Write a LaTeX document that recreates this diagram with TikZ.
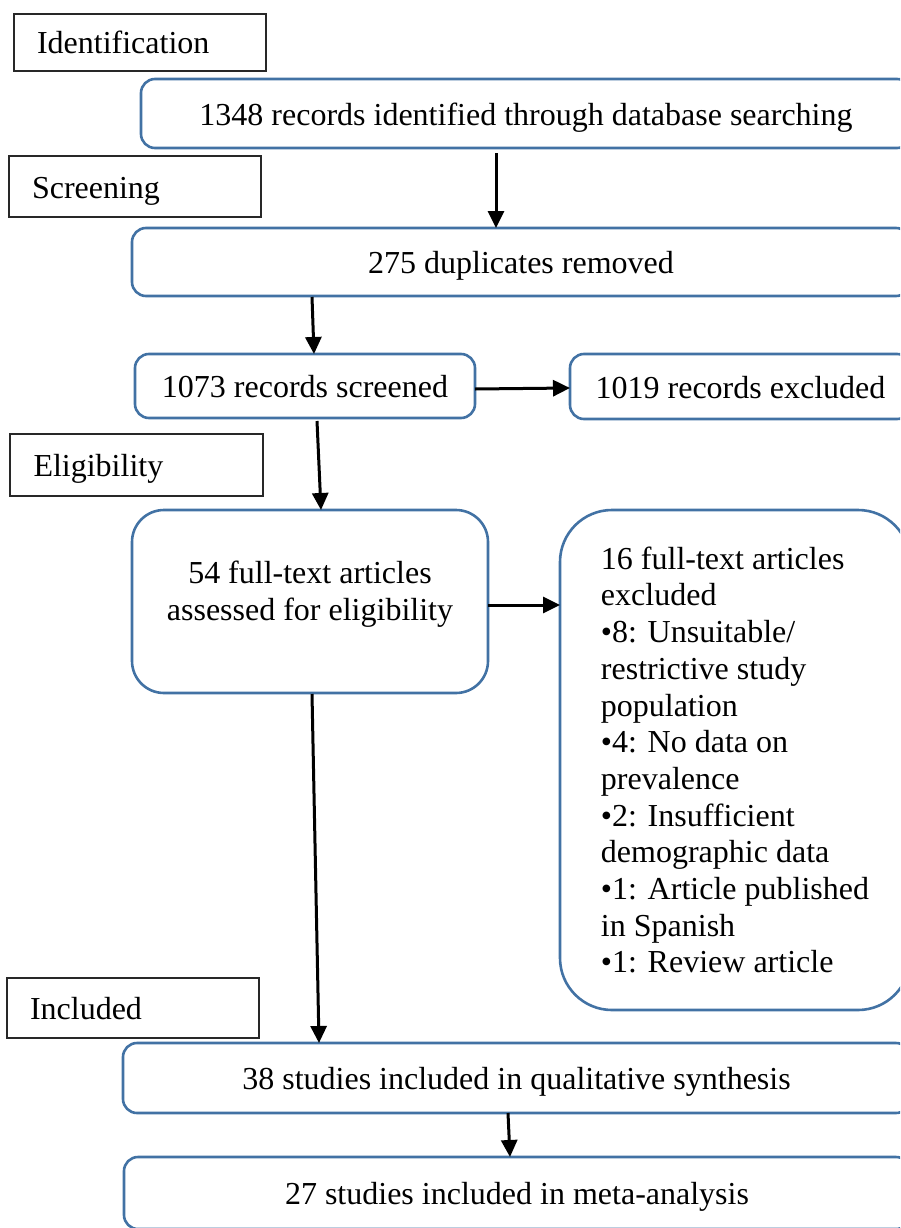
\documentclass[tikz,border=0pt]{standalone}
\usepackage{fontspec}
\setmainfont{Liberation Serif}
\usetikzlibrary{arrows.meta}
\definecolor{boxblue}{RGB}{66,114,164}
\definecolor{lblgray}{RGB}{40,40,40}
\begin{document}
\begin{tikzpicture}[x=1pt,y=-1pt,
  every node/.style={font=\fontsize{32}{36.7}\selectfont, inner sep=0pt, outer sep=0pt},
  oneline/.style={text height=25.5pt, text depth=2.5pt},
  lbl/.style={draw=lblgray, line width=1.4pt, anchor=north west, align=left, text width=206pt, oneline},
  rbox/.style={draw=boxblue, line width=2.6pt, rounded corners=14pt, anchor=north west, align=center},
  arr/.style={line width=3pt, -{Triangle[length=17pt,width=16pt]}},
]
\useasboundingbox (0,0) rectangle (900,1228);
\clip (0,0) rectangle (900,1228);

% stage labels
\node[lbl, minimum width=252pt, minimum height=57pt] (idl) at (14,14) {Identification};
\node[lbl, minimum width=252pt, minimum height=61pt] (scl) at (9,156) {Screening};
\node[lbl, minimum width=253pt, minimum height=62pt] (ell) at (10,434) {Eligibility};
\node[lbl, minimum width=252pt, minimum height=60pt] (inl) at (7,978) {Included};

% flow boxes
\node[rbox, oneline, minimum width=770pt, minimum height=69pt] (b1) at (141,79) {1348 records identified through database searching};
\node[rbox, oneline, minimum width=778pt, minimum height=68pt] (b2) at (132,228) {275 duplicates removed};
\node[rbox, oneline, minimum width=340pt, minimum height=64pt] (b3) at (135,354) {1073 records screened};
\node[rbox, oneline, minimum width=341pt, minimum height=65pt] (b4) at (570,354) {1019 records excluded};
\node[rbox, rounded corners=32pt, minimum width=356pt, minimum height=183pt, text depth=21pt] (b5) at (132,510) {54 full-text articles\\assessed for eligibility};
\node[rbox, rounded corners=52pt, minimum width=350pt, minimum height=500pt, align=left] (b6) at (560,510) {16 full-text articles\\excluded\\•8: Unsuitable/\\restrictive study\\population\\•4: No data on\\prevalence\\•2: Insufficient\\demographic data\\•1: Article published\\in Spanish\\•1: Review article};
\node[rbox, oneline, minimum width=787pt, minimum height=70pt] (b7) at (123,1043) {38 studies included in qualitative synthesis};
\node[rbox, oneline, minimum width=786pt, minimum height=72pt] (b8) at (124,1157) {27 studies included in meta-analysis};

% connectors
\draw[arr] ([xshift=-30pt,yshift=-5pt]b1.south) -- ([xshift=-25pt]b2.north);
\draw[arr] ([xshift=-209pt,yshift=-1pt]b2.south) -- ([xshift=9pt]b3.north);
\draw[arr] ([xshift=12pt,yshift=-3pt]b3.south) -- ([xshift=11pt]b5.north);
\draw[arr] ([yshift=-3pt]b3.east) -- ([yshift=-1.5pt]b4.west);
\draw[arr] ([yshift=-3.5pt]b5.east) -- ([yshift=-3.5pt]b5.east -| b6.west);
\draw[arr] ([xshift=2pt,yshift=-1pt]b5.south) -- ([xshift=-197.5pt]b7.north);
\draw[arr] ([xshift=-8.5pt]b7.south) -- ([xshift=-7pt]b8.north);
\end{tikzpicture}
\end{document}
